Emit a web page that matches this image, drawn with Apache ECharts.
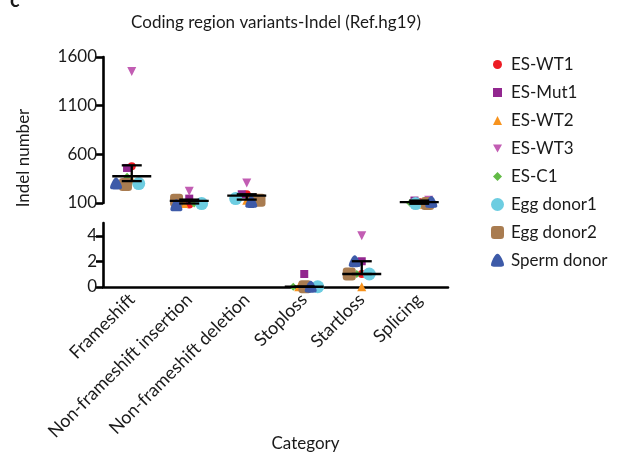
<!DOCTYPE html>
<html><head><meta charset="utf-8">
<script src="https://cdn.jsdelivr.net/npm/echarts@6/dist/echarts.min.js"></script>
<style>html,body{margin:0;padding:0;background:#fff}#c{width:624px;height:457px}</style>
</head><body><div id="c"></div>
<script>
// ---- data ----
const categories = ['Frameshift', 'Non-frameshift insertion', 'Non-frameshift deletion', 'Stoploss', 'Startloss', 'Splicing'];
const lowerCategories = ['Stoploss', 'Startloss'];
const sampleNames = ['ES-WT1', 'ES-Mut1', 'ES-WT2', 'ES-WT3', 'ES-C1', 'Egg donor1', 'Egg donor2', 'Sperm donor'];
const esWT1      = [477, 84, 190, 0, 1, 110];
const esMut1     = [460, 145, 190, 1, 2, 125];
const esWT2      = [340, 94, 128, 0, 0, 87];
const esWT3      = [1450, 220, 305, 0, 4, 128];
const esC1       = [370, 94, 150, 0, 1, 100];
const eggDonor1  = [300, 94, 145, 0, 1, 94];
const eggDonor2  = [289, 128, 128, 0, 1, 94];
const spermDonor = [300, 76, 110, 0, 2, 110];
const medianValues = [375, 122, 175, 0, 1, 110];
const q1Values     = [325, 95, 135, 0, 1, 92];
const q3Values     = [487, 135, 190, 0, 2, 125];
const upperTicks = [100, 600, 1100, 1600];
const lowerTicks = [0, 2, 4];
const lowerBreakTop = 5;

// ---- styles ----
const FONT = 'Lato';
const TXT = '#1a1a1a';
const blob = 'path://M5,0 C7,0 10,6.5 10,8.4 C10,10 8,10 5,10 C2,10 0,10 0,8.4 C0,6.5 3,0 5,0 Z';
const triDown = 'path://M0,0 L10,0 L5,9 Z';
const sampleStyles = [
  {symbol: 'circle', size: 8, color: '#ed1c24'},
  {symbol: 'rect', size: 8, color: '#92278f'},
  {symbol: 'triangle', size: 9, color: '#f7931e'},
  {symbol: triDown, size: 9, color: '#c25db3'},
  {symbol: 'diamond', size: 8, color: '#62bb46'},
  {symbol: 'circle', size: 13, color: '#6dcde1'},
  {symbol: 'roundRect', size: 13, color: '#a97c50'},
  {symbol: blob, size: 12, color: '#3d5aa8'}
];
const sampleValues = [esWT1, esMut1, esWT2, esWT3, esC1, eggDonor1, eggDonor2, spermDonor];
const isLower = i => lowerCategories.indexOf(categories[i]) >= 0;

const series = [];
sampleNames.forEach((name, s) => {
  const st = sampleStyles[s];
  [0, 1].forEach(g => {
    series.push({
      type: 'scatter', name: name, xAxisIndex: g, yAxisIndex: g,
      symbol: st.symbol, symbolSize: st.size,
      itemStyle: {color: st.color, opacity: 1},
      clip: false, z: 2,
      data: sampleValues[s].map((v, i) => (isLower(i) === (g === 1)) ? v : '-')
    });
  });
});

function renderSummary(params, api) {
  const c = api.value(0);
  const pm = api.coord([c, api.value(1)]);
  const p1 = api.coord([c, api.value(2)]);
  const p3 = api.coord([c, api.value(3)]);
  const x = pm[0];
  const st = {stroke: '#000', lineWidth: 2.3};
  return {type: 'group', children: [
    {type: 'line', shape: {x1: x - 19.5, y1: pm[1], x2: x + 19.5, y2: pm[1]}, style: st},
    {type: 'line', shape: {x1: x, y1: p1[1], x2: x, y2: p3[1]}, style: st},
    {type: 'line', shape: {x1: x - 10, y1: p1[1], x2: x + 10, y2: p1[1]}, style: st},
    {type: 'line', shape: {x1: x - 10, y1: p3[1], x2: x + 10, y2: p3[1]}, style: st}
  ]};
}
[0, 1].forEach(g => {
  series.push({
    type: 'custom', xAxisIndex: g, yAxisIndex: g, z: 5, silent: true,
    renderItem: renderSummary,
    encode: {x: 0, y: [1, 2, 3]},
    data: categories.map((c, i) => [i, medianValues[i], q1Values[i], q3Values[i]])
      .filter((d, i) => isLower(i) === (g === 1))
  });
});

function legendItem(name, s) {
  const st = sampleStyles[s];
  return {name: name, icon: st.symbol, itemStyle: {color: st.color}};
}

const axisLineStyle = {color: '#000', width: 2.6};
const chart = echarts.init(document.getElementById('c'), null, {renderer: 'canvas'});
chart.setOption({
  animation: false,
  textStyle: {fontFamily: FONT},
  title: {
    text: 'Coding region variants-Indel (Ref.hg19)', left: 271, top: 9, textAlign: 'center',
    textStyle: {fontFamily: FONT, fontSize: 17, fontWeight: 'normal', color: TXT}
  },
  grid: [
    {left: 103, top: 57, width: 345, height: 146, containLabel: false},
    {left: 103, top: 223, width: 345, height: 63.75, containLabel: false}
  ],
  legend: [
    {data: sampleNames.slice(0, 5).map((n, i) => legendItem(n, i)), orient: 'vertical', left: 488, top: 51,
     itemWidth: 9, itemHeight: 9, itemGap: 11, textStyle: {fontFamily: FONT, fontSize: 17, color: TXT, padding: [0, 0, 0, 4]}},
    {data: sampleNames.slice(5).map((n, i) => legendItem(n, i + 5)), orient: 'vertical', left: 486, top: 191,
     itemWidth: 13, itemHeight: 13, itemGap: 10.9, textStyle: {fontFamily: FONT, fontSize: 17, color: TXT, padding: [0, 0, 0, 2]}}
  ],
  xAxis: [
    {type: 'category', gridIndex: 0, data: categories, show: false, jitter: 32, jitterOverlap: false, jitterMargin: -3},
    {type: 'category', gridIndex: 1, data: categories, jitter: 32, jitterOverlap: false, jitterMargin: -3,
     axisLine: {lineStyle: axisLineStyle},
     axisTick: {alignWithLabel: true, length: 7, lineStyle: {color: '#000', width: 2.6}},
     axisLabel: {rotate: 45, margin: 10, fontFamily: FONT, fontSize: 18, color: TXT, interval: 0},
     splitLine: {show: false}}
  ],
  yAxis: [
    {type: 'value', gridIndex: 0, min: upperTicks[0], max: upperTicks[upperTicks.length - 1],
     interval: upperTicks[1] - upperTicks[0],
     axisLine: {show: true, lineStyle: axisLineStyle},
     axisTick: {show: true, length: 7, lineStyle: {color: '#000', width: 2.6}},
     axisLabel: {margin: 6, fontFamily: FONT, fontSize: 17, color: TXT, formatter: v => String(v)},
     splitLine: {show: false}},
    {type: 'value', gridIndex: 1, min: lowerTicks[0], max: lowerBreakTop,
     interval: lowerTicks[1] - lowerTicks[0],
     axisLine: {show: true, lineStyle: axisLineStyle},
     axisTick: {show: true, length: 7, lineStyle: {color: '#000', width: 2.6}},
     axisLabel: {margin: 6, fontFamily: FONT, fontSize: 17, color: TXT, showMaxLabel: false,
       formatter: v => lowerTicks.indexOf(v) >= 0 ? String(v) : ''},
     splitLine: {show: false}}
  ],
  graphic: [
    {type: 'text', left: 10, top: -9, style: {text: 'c', fontFamily: FONT, fontSize: 20, fontWeight: 'bold', fill: TXT}},
    {type: 'text', x: 24, y: 158, rotation: Math.PI / 2,
     style: {text: 'Indel number', fontFamily: FONT, fontSize: 17, fill: TXT, align: 'center', verticalAlign: 'middle'}},
    {type: 'text', x: 305.5, y: 444,
     style: {text: 'Category', fontFamily: FONT, fontSize: 17, fill: TXT, align: 'center', verticalAlign: 'middle'}}
  ],
  series: series
});
</script></body></html>
